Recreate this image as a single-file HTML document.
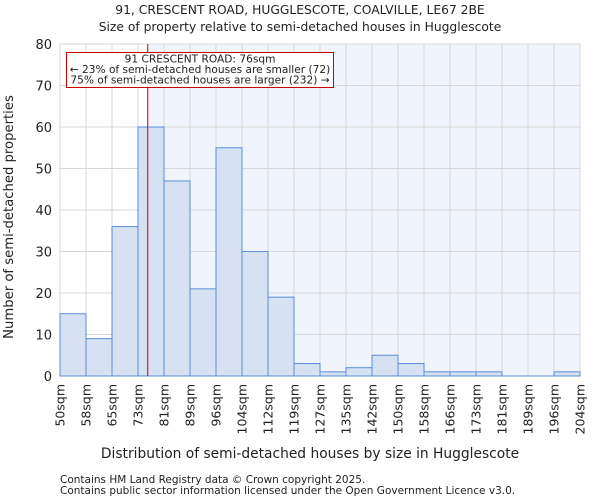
<!DOCTYPE html>
<html><head><meta charset="utf-8"><style>
body{margin:0;background:#fff;font-family:"DejaVu Sans","Liberation Sans",sans-serif;}
text{font-family:"DejaVu Sans","Liberation Sans",sans-serif;fill:#222;}
</style></head><body>
<svg id="chart" width="600" height="500" viewBox="0 0 600 500">
<text x="300" y="14" text-anchor="middle" font-size="12.3">91, CRESCENT ROAD, HUGGLESCOTE, COALVILLE, LE67 2BE</text>
<text x="300" y="31" text-anchor="middle" font-size="12.3">Size of property relative to semi-detached houses in Hugglescote</text>
<g id="plot"></g>
<text x="310" y="458" text-anchor="middle" font-size="13.8">Distribution of semi-detached houses by size in Hugglescote</text>
<text transform="translate(13,217) rotate(-90)" text-anchor="middle" font-size="13.2">Number of semi-detached properties</text>
<text x="60" y="483" font-size="10.5" fill="#444">Contains HM Land Registry data © Crown copyright 2025.</text>
<text x="60" y="494" font-size="10.5" fill="#444">Contains public sector information licensed under the Open Government Licence v3.0.</text>
</svg>
<script>
const categories=["50sqm","58sqm","65sqm","73sqm","81sqm","89sqm","96sqm","104sqm","112sqm","119sqm","127sqm","135sqm","142sqm","150sqm","158sqm","166sqm","173sqm","181sqm","189sqm","196sqm","204sqm"];
const counts=[15,9,36,60,47,21,55,30,19,3,1,2,5,3,1,1,1,0,0,1];
const yTicks=[0,10,20,30,40,50,60,70,80];
const markerValue=76;
const binStarts=[50,58,65,73,81,89,96,104,112,119,127,135,142,150,158,166,173,181,189,196,204];
const L=60,R=580,T=44,B=376,yMax=80;
const ns="http://www.w3.org/2000/svg";
const g=document.getElementById('plot');
const bw=(R-L)/counts.length;
const xs=i=>L+i*bw;
const ys=v=>B-(v/yMax)*(B-T);
function mk(t,a){const e=document.createElementNS(ns,t);for(const k in a)e.setAttribute(k,a[k]);g.appendChild(e);return e;}
let mi=0;for(let i=0;i<binStarts.length-1;i++){if(markerValue>=binStarts[i]&&markerValue<binStarts[i+1])mi=i;}
const mx=xs(mi)+bw*(markerValue-binStarts[mi])/(binStarts[mi+1]-binStarts[mi]);
let bg=mk('rect',{x:mx,y:T,width:R-mx,height:B-T,fill:'#f0f4fc'});


yTicks.forEach(v=>{
 let l=mk('line',{x1:L,x2:R,y1:ys(v),y2:ys(v),stroke:'#d8d8d8','stroke-width':1});
 
 
 let t=mk('text',{x:L-8,y:ys(v)+5,'text-anchor':'end','font-size':13});
 t.textContent=v;
 
 
});
categories.forEach((c,i)=>{
 let l=mk('line',{x1:xs(i),x2:xs(i),y1:T,y2:B,stroke:'#d8d8d8','stroke-width':1});
 
 
 let t=mk('text',{transform:`translate(${xs(i)+4.5},${B+8}) rotate(-90)`,'text-anchor':'end','font-size':12.5});
 t.textContent=c;
 
 
});
counts.forEach((v,i)=>{
 if(v<=0)return;
 let r=mk('rect',{x:xs(i),y:ys(v),width:bw,height:B-ys(v),fill:'#d6e1f3',stroke:'#5a8ed6','stroke-width':1});
 
 
});
let ax=mk('line',{x1:L,x2:R,y1:B,y2:B,stroke:'#5a8ed6','stroke-width':1});


let ml=mk('line',{x1:mx,x2:mx,y1:T,y2:B,stroke:'#cc0000','stroke-width':1});


let box=mk('rect',{x:66.5,y:52.5,width:267,height:35,fill:'#fff',stroke:'#cc0000','stroke-width':1});


[["91 CRESCENT ROAD: 76sqm",62.5],["← 23% of semi-detached houses are smaller (72)",73],["75% of semi-detached houses are larger (232) →",83.5]].forEach((a,i)=>{
 let t=mk('text',{x:200,y:a[1],'text-anchor':'middle','font-size':10.6});
 t.textContent=a[0];
 
 
});
</script>
</body></html>
